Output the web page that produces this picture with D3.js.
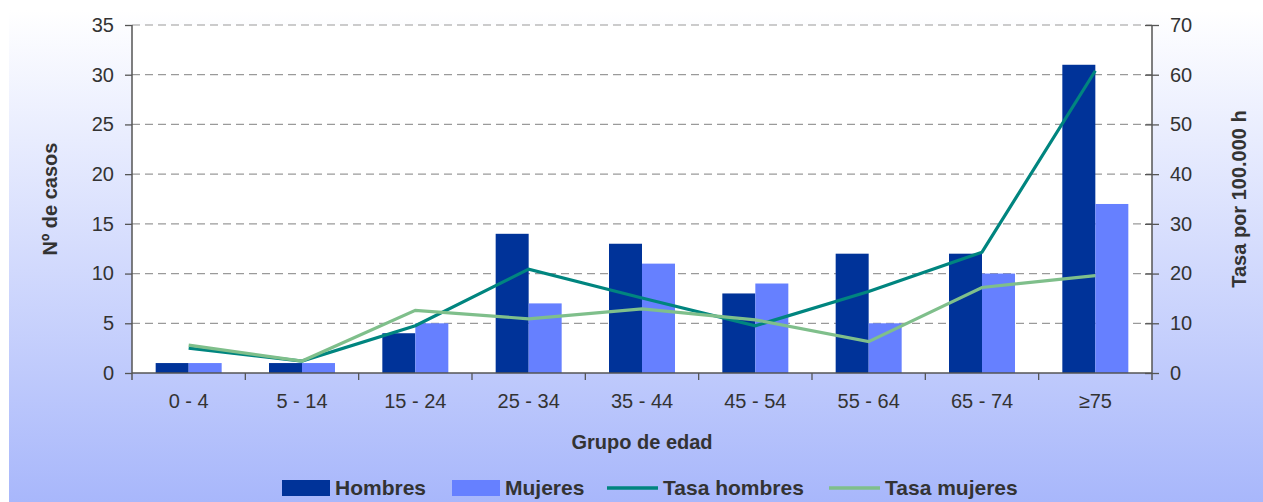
<!DOCTYPE html>
<html>
<head>
<meta charset="utf-8">
<script src="https://cdn.jsdelivr.net/npm/d3@7"></script>
<style>
  html, body { margin: 0; padding: 0; background: #ffffff; }
  svg { display: block; font-family: "Liberation Sans", Arial, sans-serif; }
</style>
</head>
<body>
<svg id="chart" width="1263" height="502"></svg>
<script>
// Age groups and counts / rates per group
const categories = ["0 - 4", "5 - 14", "15 - 24", "25 - 34", "35 - 44", "45 - 54", "55 - 64", "65 - 74", "\u226575"];
const hombres = [1, 1, 4, 14, 13, 8, 12, 12, 31];
const mujeres = [1, 1, 5, 7, 11, 9, 5, 10, 17];
const tasaHombres = [5.0, 2.4, 9.5, 20.9, 15.1, 9.5, 16.4, 24.3, 60.8];
const tasaMujeres = [5.6, 2.4, 12.6, 10.9, 12.9, 10.7, 6.3, 17.2, 19.6];
const leftTicks = [0, 5, 10, 15, 20, 25, 30, 35];
const rightTicks = [0, 10, 20, 30, 40, 50, 60, 70];
const legendLabels = ["Hombres", "Mujeres", "Tasa hombres", "Tasa mujeres"];

// Legend layout: symbol kind, colour and left edge of each entry
const legendStyle = [
  { kind: "bar", color: "#003399", x: 282 },
  { kind: "bar", color: "#6680ff", x: 452 },
  { kind: "line", color: "#00857f", x: 607 },
  { kind: "line", color: "#7fbf8b", x: 829 }
];

const svg = d3.select("#chart");
const plot = { left: 132, right: 1152, top: 25, bottom: 373 };

// Background panel with vertical gradient
const defs = svg.append("defs");
const grad = defs.append("linearGradient").attr("id", "bg").attr("x1", 0).attr("y1", 0).attr("x2", 0).attr("y2", 1);
grad.append("stop").attr("offset", "0%").attr("stop-color", "#ffffff");
grad.append("stop").attr("offset", "100%").attr("stop-color", "#a8b7fb");
svg.append("rect").attr("x", 9).attr("y", 10).attr("width", 1263 - 9).attr("height", 502 - 10).attr("fill", "url(#bg)");
svg.append("rect").attr("x", plot.left).attr("y", plot.top)
  .attr("width", plot.right - plot.left).attr("height", plot.bottom - plot.top).attr("fill", "#ffffff");

// Scales
const x = d3.scaleBand().domain(categories).range([plot.left, plot.right]).paddingInner(0).paddingOuter(0);
const yL = d3.scaleLinear().domain([0, 35]).range([plot.bottom, plot.top]);
const yR = d3.scaleLinear().domain([0, 70]).range([plot.bottom, plot.top]);
const barW = 33;

// Dashed gridlines
svg.append("g").selectAll("line").data(leftTicks.filter(d => d > 0)).join("line")
  .attr("x1", plot.left).attr("x2", plot.right)
  .attr("y1", d => yL(d)).attr("y2", d => yL(d))
  .attr("stroke", "#9a9a9a").attr("stroke-width", 1.2).attr("stroke-dasharray", "8,5");

// Bars
const cx = c => x(c) + x.bandwidth() / 2;
svg.append("g").selectAll("rect").data(categories).join("rect")
  .attr("x", c => cx(c) - barW).attr("width", barW)
  .attr("y", (c, i) => yL(hombres[i])).attr("height", (c, i) => yL(0) - yL(hombres[i]))
  .attr("fill", "#003399");
svg.append("g").selectAll("rect").data(categories).join("rect")
  .attr("x", c => cx(c)).attr("width", barW)
  .attr("y", (c, i) => yL(mujeres[i])).attr("height", (c, i) => yL(0) - yL(mujeres[i]))
  .attr("fill", "#6680ff");

// Rate lines on the right axis
const line = d3.line().x((d, i) => cx(categories[i])).y(d => yR(d));
svg.append("path").datum(tasaHombres).attr("d", line)
  .attr("fill", "none").attr("stroke", "#00857f").attr("stroke-width", 3.2).attr("stroke-linejoin", "miter");
svg.append("path").datum(tasaMujeres).attr("d", line)
  .attr("fill", "none").attr("stroke", "#7fbf8b").attr("stroke-width", 3.2).attr("stroke-linejoin", "miter");

// Axes
const axisColor = "#555555";
const textColor = "#333333";
const gL = svg.append("g").attr("transform", `translate(${plot.left},0)`)
  .call(d3.axisLeft(yL).tickValues(leftTicks).tickSize(7).tickPadding(11));
const gR = svg.append("g").attr("transform", `translate(${plot.right},0)`)
  .call(d3.axisRight(yR).tickValues(rightTicks).tickSize(7).tickPadding(11));
const gB = svg.append("g").attr("transform", `translate(0,${plot.bottom})`)
  .call(d3.axisBottom(x).tickSize(0).tickPadding(21));

[gL, gR, gB].forEach(g => {
  g.select(".domain").attr("stroke", axisColor).attr("stroke-width", 1.5);
  g.selectAll(".tick line").attr("stroke", axisColor).attr("stroke-width", 1.3);
  g.selectAll(".tick text").attr("fill", textColor).style("font-size", "20px")
    .style("font-family", "'Liberation Sans', Arial, sans-serif");
});
gL.select(".domain").attr("d", `M0,${plot.top}V${plot.bottom + 7}`);
gR.select(".domain").attr("d", `M0,${plot.top}V${plot.bottom + 7}`);
gR.selectAll(".tick line").attr("x1", -7).attr("x2", 7);
gB.select(".domain").attr("d", `M${plot.left},0H${plot.right}`);

// Category separator ticks below the x axis
svg.append("g").selectAll("line").data(categories.slice(1)).join("line")
  .attr("x1", c => x(c)).attr("x2", c => x(c))
  .attr("y1", plot.bottom).attr("y2", plot.bottom + 7)
  .attr("stroke", axisColor).attr("stroke-width", 1.3);

// Axis titles
svg.append("text").attr("transform", `translate(57,${(plot.top + plot.bottom) / 2}) rotate(-90)`)
  .attr("text-anchor", "middle").attr("fill", textColor)
  .style("font-weight", "bold").style("font-size", "20px").text("N\u00ba de casos");
svg.append("text").attr("transform", `translate(1246,${(plot.top + plot.bottom) / 2}) rotate(-90)`)
  .attr("text-anchor", "middle").attr("fill", textColor)
  .style("font-weight", "bold").style("font-size", "20px").text("Tasa por 100.000 h");
svg.append("text").attr("x", (plot.left + plot.right) / 2).attr("y", 449)
  .attr("text-anchor", "middle").attr("fill", textColor)
  .style("font-weight", "bold").style("font-size", "20px").text("Grupo de edad");

// Legend
const legend = svg.append("g");
legendLabels.forEach((label, i) => {
  const st = legendStyle[i];
  const g = legend.append("g").attr("transform", `translate(${st.x},0)`);
  let sw;
  if (st.kind === "bar") {
    sw = 48;
    g.append("rect").attr("x", 0).attr("y", 480).attr("width", sw).attr("height", 16).attr("fill", st.color);
  } else {
    sw = 51;
    g.append("line").attr("x1", 0).attr("x2", sw).attr("y1", 488).attr("y2", 488)
      .attr("stroke", st.color).attr("stroke-width", 3.5);
  }
  g.append("text").attr("x", sw + 5).attr("y", 495).attr("fill", textColor)
    .style("font-weight", "bold").style("font-size", "21px").text(label);
});
</script>
</body>
</html>
